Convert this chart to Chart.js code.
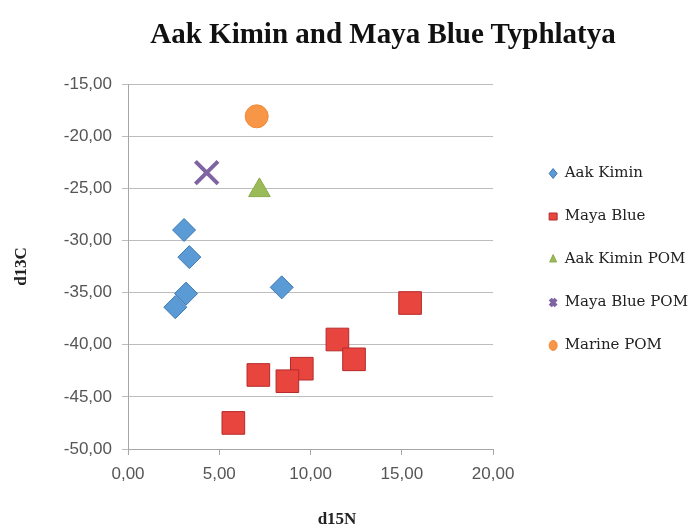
<!DOCTYPE html>
<html lang="en">
<head>
  <meta charset="UTF-8" />
  <title>Aak Kimin and Maya Blue Typhlatya</title>
  <script src="https://cdn.jsdelivr.net/npm/chart.js"></script>
  <style>
    html, body { margin: 0; padding: 0; background: #fff; overflow: hidden; }
    #wrap { position: relative; width: 698px; height: 532px; }
    #chartTitle {
      position: absolute; top: 17px; left: 383px; transform: translateX(-50%);
      font: bold 29px "Liberation Serif", serif; line-height: 32px; color: #111;
      white-space: nowrap;
    }
    #xTitle {
      position: absolute; top: 508px; left: 337px; transform: translateX(-50%);
      font: bold 17px "Liberation Serif", serif; line-height: 22px; color: #222;
      white-space: nowrap;
    }
  </style>
</head>
<body>
  <div id="wrap">
    <canvas id="isoChart" width="698" height="532"></canvas>
    <div id="chartTitle">Aak Kimin and Maya Blue Typhlatya</div>
    <div id="xTitle">d15N</div>
  </div>

  <script>
    // d15N (x) / d13C (y) values
    const aakKiminN = [3.07, 3.36, 3.18, 2.59, 8.42];
    const aakKiminC = [-29.0, -31.6, -35.1, -36.4, -34.5];

    const mayaBlueN = [15.45, 11.47, 12.38, 9.52, 8.73, 7.14, 5.77];
    const mayaBlueC = [-36.0, -39.5, -41.4, -42.3, -43.5, -42.9, -47.5];

    const aakPomN = [7.2];
    const aakPomC = [-25.2];

    const mayaPomN = [4.31];
    const mayaPomC = [-23.5];

    const marinePomN = [7.05];
    const marinePomC = [-18.1];

    const xTicks = [0, 5, 10, 15, 20];
    const yTicks = [-50, -45, -40, -35, -30, -25, -20, -15];

    function toPoints(xs, ys) {
      return xs.map((x, i) => ({ x: x, y: ys[i] }));
    }

    function fmt(v) {
      return v.toFixed(2).replace('.', ',');
    }

    const tickFont = { family: 'Liberation Sans', size: 17 };
    const axisTitleFont = { family: 'Liberation Serif', size: 17, weight: 'bold' };

    const ctx = document.getElementById('isoChart').getContext('2d');
    const chart = new Chart(ctx, {
      type: 'scatter',
      data: {
        datasets: [
          {
            label: 'Aak Kimin',
            data: toPoints(aakKiminN, aakKiminC),
            pointStyle: 'rectRot',
            pointRadius: 11.5,
            backgroundColor: '#5b9bd5',
            borderColor: '#3d78b4',
            borderWidth: 1
          },
          {
            label: 'Maya Blue',
            data: toPoints(mayaBlueN, mayaBlueC),
            pointStyle: 'rect',
            pointRadius: 16,
            backgroundColor: '#e8453f',
            borderColor: '#b52a2a',
            borderWidth: 1
          },
          {
            label: 'Aak Kimin POM',
            data: toPoints(aakPomN, aakPomC),
            pointStyle: 'triangle',
            pointRadius: 12.5,
            backgroundColor: '#9bbb59',
            borderColor: '#8aab48',
            borderWidth: 1
          },
          {
            label: 'Maya Blue POM',
            data: toPoints(mayaPomN, mayaPomC),
            pointStyle: 'crossRot',
            pointRadius: 16,
            backgroundColor: '#8064a2',
            borderColor: '#8064a2',
            borderWidth: 4
          },
          {
            label: 'Marine POM',
            data: toPoints(marinePomN, marinePomC),
            pointStyle: 'circle',
            pointRadius: 11.5,
            backgroundColor: '#f79646',
            borderColor: '#f08a36',
            borderWidth: 1
          }
        ]
      },
      options: {
        responsive: false,
        animation: false,
        layout: { padding: { left: 2, top: 84, right: 0, bottom: 0 } },
        plugins: {
          tooltip: { enabled: false },
          title: { display: false },
          legend: {
            position: 'right',
            fullSize: false,
            maxWidth: 180,
            // empty title with negative padding just nudges the items up a bit
            title: { display: true, text: '', font: { size: 10, lineHeight: 1 }, padding: { top: -12, bottom: -12 } },
            labels: {
              usePointStyle: true,
              pointStyleWidth: 8,
              boxHeight: 7,
              padding: 28,
              color: '#222',
              font: { family: 'DejaVu Serif', size: 15 }
            }
          }
        },
        scales: {
          x: {
            type: 'linear',
            min: 0,
            max: 20,
            afterBuildTicks: (axis) => { axis.ticks = xTicks.map(v => ({ value: v })); },
            afterFit: (axis) => { axis.height = 83; },
            ticks: { color: '#555', font: tickFont, padding: 9, callback: fmt },
            grid: { drawOnChartArea: false, tickLength: 6, color: '#a6a6a6' },
            border: { color: '#a6a6a6' },
            title: { display: false }
          },
          y: {
            type: 'linear',
            min: -50,
            max: -15,
            afterBuildTicks: (axis) => { axis.ticks = yTicks.map(v => ({ value: v })); },
            afterFit: (axis) => { axis.width = 126; },
            ticks: { color: '#555', font: tickFont, padding: 10, callback: fmt },
            grid: { color: '#bdbdbd', tickLength: 6 },
            border: { color: '#a6a6a6' },
            title: { display: true, text: 'd13C', color: '#222', font: axisTitleFont, padding: { top: 9, bottom: 4 } }
          },
          // empty right-hand axis, only there to keep a gap between plot and legend
          gap: {
            type: 'linear',
            position: 'right',
            display: true,
            afterFit: (axis) => { axis.width = 28; },
            ticks: { display: false },
            grid: { display: false },
            border: { display: false }
          }
        }
      }
    });
  </script>
</body>
</html>
